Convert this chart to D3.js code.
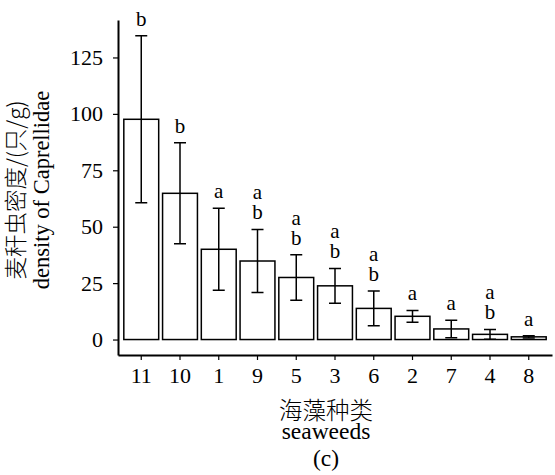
<!DOCTYPE html>
<html lang="zh">
<head>
    <meta charset="UTF-8">
    <title>Caprellidae density by seaweed</title>
    <style>
        body { margin: 0; background: #fff; }
        text { font-family: "Liberation Serif", "Times New Roman", serif; fill: #000; }
        .cjk { font-family: "Noto Sans CJK SC", sans-serif; font-weight: 300; }
        .bar { fill: #fff; stroke: #000; stroke-width: 1.5px; }
        .err { stroke: #000; stroke-width: 1.5px; fill: none; }
        .axis path, .axis line { stroke: #000; }
    </style>
</head>
<body>
<svg width="555" height="475"></svg>
<script src="https://cdn.jsdelivr.net/npm/d3@7"></script>
<script>
    // seaweed species, sorted by mean density
    var seaweeds = ["11", "10", "1", "9", "5", "3", "6", "2", "7", "4", "8"];
    var means = [97.6, 64.8, 40.0, 34.8, 27.5, 23.8, 13.8, 10.3, 4.7, 2.3, 1.2];
    var errs = [37.0, 22.4, 18.2, 14.0, 10.1, 7.7, 7.7, 2.6, 3.9, 2.2, 0.5];
    var groups = [["b"], ["b"], ["a"], ["a", "b"], ["a", "b"], ["a", "b"], ["a", "b"], ["a"], ["a"], ["a", "b"], ["a"]];
    var yTicks = [0, 25, 50, 75, 100, 125];

    var svg = d3.select("svg");

    var plotL = 118, plotR = 552, plotT = 20, plotB = 355;

    var x = d3.scaleBand()
        .domain(seaweeds)
        .range([plotL, plotR])
        .paddingInner(0.1)
        .paddingOuter(0.15);

    var y = d3.scaleLinear()
        .domain([-6.85, 141.6])
        .range([plotB, plotT]);

    // bars
    svg.selectAll(".bar")
        .data(seaweeds)
        .enter().append("rect")
        .attr("class", "bar")
        .attr("x", function (d) { return x(d); })
        .attr("width", x.bandwidth())
        .attr("y", function (d, i) { return y(means[i]); })
        .attr("height", function (d, i) { return y(0) - y(means[i]); });

    // error bars
    var eb = svg.selectAll(".eb")
        .data(seaweeds)
        .enter().append("g")
        .attr("class", "eb")
        .attr("transform", function (d) { return "translate(" + (x(d) + x.bandwidth() / 2) + ",0)"; });

    eb.append("path")
        .attr("class", "err")
        .attr("d", function (d, i) {
            var hi = y(means[i] + errs[i]), lo = y(Math.max(0, means[i] - errs[i]));
            return "M0," + hi + "V" + lo + "M-6," + hi + "H6M-6," + lo + "H6";
        });

    // significance letters
    eb.each(function (d, i) {
        var g = d3.select(this);
        var base = y(means[i] + errs[i]) - 10;
        var letters = groups[i].slice().reverse();
        letters.forEach(function (l, k) {
            g.append("text")
                .attr("y", base - k * 20)
                .attr("text-anchor", "middle")
                .style("font-size", "21px")
                .text(l);
        });
    });

    // axes
    var yAxis = svg.append("g")
        .attr("class", "axis")
        .attr("transform", "translate(" + plotL + ",0)")
        .call(d3.axisLeft(y).tickValues(yTicks).tickSize(5).tickPadding(10).tickSizeOuter(0));
    yAxis.select(".domain").attr("stroke-width", 2);
    yAxis.selectAll("line").attr("stroke-width", 1.2);
    yAxis.selectAll("text").style("font-size", "22px");

    var xAxis = svg.append("g")
        .attr("class", "axis")
        .attr("transform", "translate(0," + plotB + ")")
        .call(d3.axisBottom(x).tickSize(5).tickPadding(7).tickSizeOuter(0));
    xAxis.select(".domain").attr("stroke-width", 2);
    xAxis.selectAll("line").attr("stroke-width", 1.2);
    xAxis.selectAll("text").style("font-size", "22px");

    svg.selectAll(".axis").attr("font-family", null).attr("font-size", null);

    // axis titles
    var yt = svg.append("g").attr("transform", "translate(0,190) rotate(-90)");
    yt.append("text").attr("class", "cjk").attr("y", 24).attr("text-anchor", "middle")
        .style("font-size", "22.5px").text("麦秆虫密度/(只/g)");
    yt.append("text").attr("y", 49).attr("text-anchor", "middle")
        .style("font-size", "22.5px").text("density of Caprellidae");

    svg.append("text").attr("class", "cjk").attr("x", 326).attr("y", 419).attr("text-anchor", "middle")
        .style("font-size", "23.5px").text("海藻种类");
    svg.append("text").attr("x", 326).attr("y", 439).attr("text-anchor", "middle")
        .style("font-size", "23.5px").text("seaweeds");
    svg.append("text").attr("x", 326).attr("y", 466).attr("text-anchor", "middle")
        .style("font-size", "23.5px").text("(c)");
</script>
</body>
</html>
